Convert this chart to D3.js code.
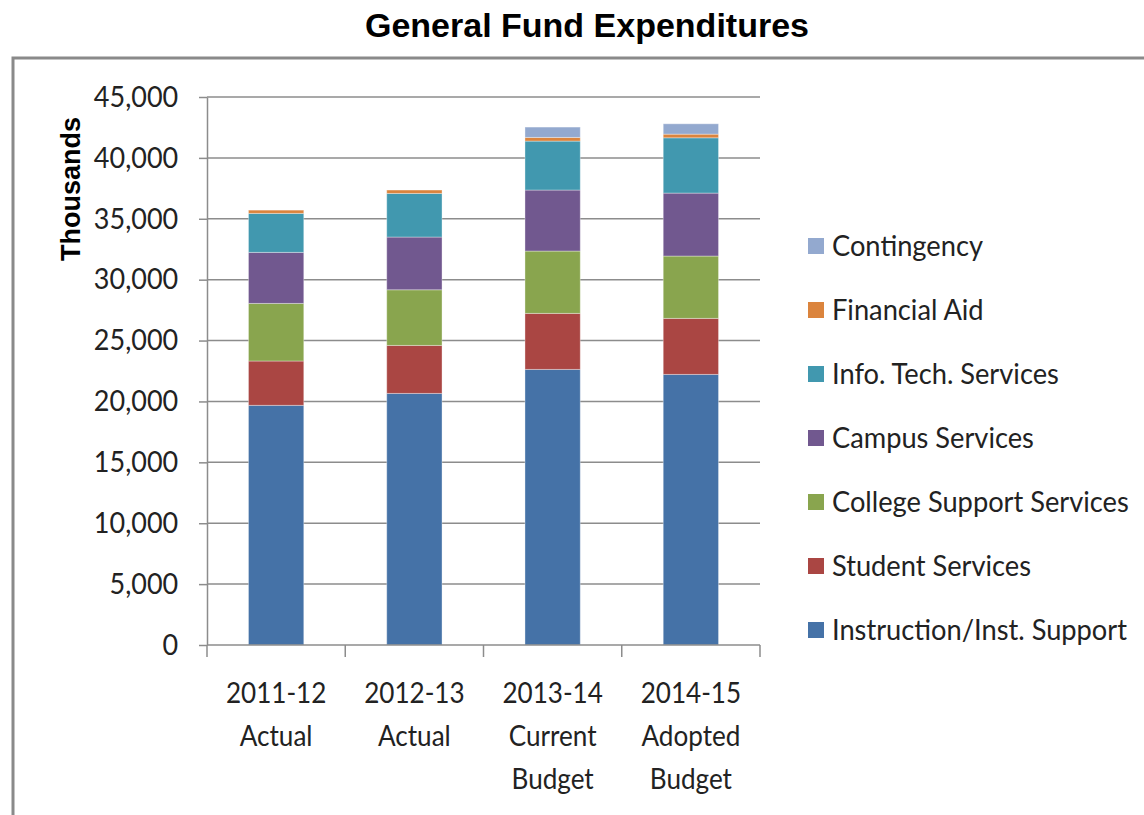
<!DOCTYPE html>
<html>
<head>
<meta charset="utf-8">
<script src="https://cdn.jsdelivr.net/npm/d3@7"></script>
<style>
  body { margin: 0; background: #fff; }
  svg { display: block; }
  .tick text { font-family: "Lato", sans-serif; }
</style>
</head>
<body>
<div id="chart"></div>
<script>
// Categories (x axis, two or three lines each)
const years = ['2011-12', '2012-13', '2013-14', '2014-15'];
const yearLabels = [['2011-12', 'Actual'], ['2012-13', 'Actual'], ['2013-14', 'Current', 'Budget'], ['2014-15', 'Adopted', 'Budget']];

// Series, bottom to top (thousands)
const seriesNames = ['Instruction/Inst. Support', 'Student Services', 'College Support Services',
    'Campus Services', 'Info. Tech. Services', 'Financial Aid', 'Contingency'];
const instruction = [19680, 20660, 22630, 22220];
const studentServices = [3640, 3940, 4600, 4600];
const collegeSupport = [4730, 4570, 5120, 5120];
const campusServices = [4190, 4330, 5010, 5170];
const infoTech = [3200, 3580, 4020, 4540];
const financialAid = [270, 280, 300, 300];
const contingency = [0, 0, 850, 850];
const seriesColors = ['#4572A7', '#AA4643', '#89A54E', '#71588F', '#4198AF', '#DB843D', '#93A9CF'];

const yTicks = [0, 5000, 10000, 15000, 20000, 25000, 30000, 35000, 40000, 45000];

const width = 1144;
const height = 815;
const squeeze = 0.9; // Lato is wider than the original narrow font

// Build rows for the stack
const allSeries = [instruction, studentServices, collegeSupport, campusServices, infoTech, financialAid, contingency];
const rows = years.map((y, i) => {
    const r = { year: y };
    seriesNames.forEach((s, j) => r[s] = allSeries[j][i]);
    return r;
});
const stacked = d3.stack().keys(seriesNames)(rows);

const svg = d3.select('#chart')
    .append('svg')
    .attr('width', width)
    .attr('height', height);

// Title
svg.append('text')
    .attr('x', 587)
    .attr('y', 37)
    .attr('text-anchor', 'middle')
    .style('font-family', 'Liberation Sans, Arial, sans-serif')
    .style('font-weight', 'bold')
    .style('font-size', '34px')
    .text('General Fund Expenditures');

// Chart frame (only top and left visible)
svg.append('path')
    .attr('d', `M13,${height + 5} V58 H${width + 5}`)
    .attr('fill', 'none')
    .attr('stroke', '#8a8a8a')
    .attr('stroke-width', 3);

const xScale = d3.scaleBand()
    .domain(years)
    .range([207, 760])
    .paddingInner(0.6)
    .paddingOuter(0.3);

const yScale = d3.scaleLinear()
    .domain([0, 45000])
    .range([645, 97]);

// Gridlines
svg.append('g')
    .selectAll('line')
    .data(yTicks.slice(1))
    .join('line')
    .attr('x1', 207)
    .attr('x2', 760)
    .attr('y1', d => yScale(d))
    .attr('y2', d => yScale(d))
    .attr('stroke', '#8c8c8c')
    .attr('stroke-width', 1.5);

// Bars
svg.append('g')
    .selectAll('g')
    .data(stacked)
    .join('g')
    .attr('fill', (d, i) => seriesColors[i])
    .selectAll('rect')
    .data(d => d)
    .join('rect')
    .attr('x', d => xScale(d.data.year))
    .attr('y', d => yScale(d[1]))
    .attr('width', xScale.bandwidth())
    .attr('height', d => yScale(d[0]) - yScale(d[1]))
    .attr('stroke', d => (d[1] - d[0]) > 0 ? 'rgba(255,255,255,0.35)' : 'none')
    .attr('stroke-width', 1);

// Y axis
const yAxis = svg.append('g')
    .attr('transform', 'translate(207,0)')
    .call(d3.axisLeft(yScale).tickValues(yTicks).tickFormat(d3.format(',')).tickSize(8).tickSizeOuter(0));
yAxis.select('.domain').attr('stroke', '#8c8c8c').attr('stroke-width', 1.5);
yAxis.selectAll('.tick line').attr('stroke', '#8c8c8c').attr('stroke-width', 1.5);
yAxis.selectAll('.tick text')
    .attr('x', -31)
    .attr('transform', 'scale(0.93,1)')
    .style('font-size', '29px')
    .attr('fill', '#222');

// X axis with ticks between categories
const xAxisG = svg.append('g').attr('transform', 'translate(0,645)');
xAxisG.append('line')
    .attr('x1', 207).attr('x2', 760)
    .attr('stroke', '#8c8c8c').attr('stroke-width', 1.5);
const step = xScale.step();
const boundaries = years.map(y => xScale(y) - step * 0.3).concat([760]);
xAxisG.selectAll('.sep')
    .data(boundaries)
    .join('line')
    .attr('class', 'sep')
    .attr('x1', d => d).attr('x2', d => d)
    .attr('y1', 0).attr('y2', 12)
    .attr('stroke', '#8c8c8c').attr('stroke-width', 1.5);

const xLab = svg.append('g')
    .selectAll('g')
    .data(years)
    .join('g')
    .attr('transform', d => `translate(${xScale(d) + xScale.bandwidth() / 2},703) scale(${squeeze},1)`)
    .append('text')
    .attr('text-anchor', 'middle')
    .style('font-family', 'Lato, sans-serif')
    .style('font-size', '29px')
    .attr('fill', '#222');
xLab.selectAll('tspan')
    .data((d, i) => yearLabels[i])
    .join('tspan')
    .attr('x', 0)
    .attr('dy', (d, i) => i === 0 ? 0 : 43)
    .text(d => d);

// Y axis title
svg.append('text')
    .attr('transform', 'translate(80,189) rotate(-90)')
    .attr('text-anchor', 'middle')
    .style('font-family', '"Liberation Sans", Arial, sans-serif')
    .style('font-weight', 'bold')
    .style('font-size', '27px')
    .text('Thousands');

// Legend, top entry is the top series
const legend = svg.append('g')
    .selectAll('g')
    .data(seriesNames.slice().reverse())
    .join('g')
    .attr('transform', (d, i) => `translate(808,${246 + i * 64})`);

legend.append('rect')
    .attr('x', 0)
    .attr('y', -8)
    .attr('width', 16)
    .attr('height', 16)
    .attr('fill', d => seriesColors[seriesNames.indexOf(d)]);

legend.append('text')
    .attr('transform', 'translate(24,10) scale(0.94,1)')
    .style('font-family', 'Lato, sans-serif')
    .style('font-size', '29px')
    .attr('fill', '#222')
    .text(d => d);
</script>
</body>
</html>
